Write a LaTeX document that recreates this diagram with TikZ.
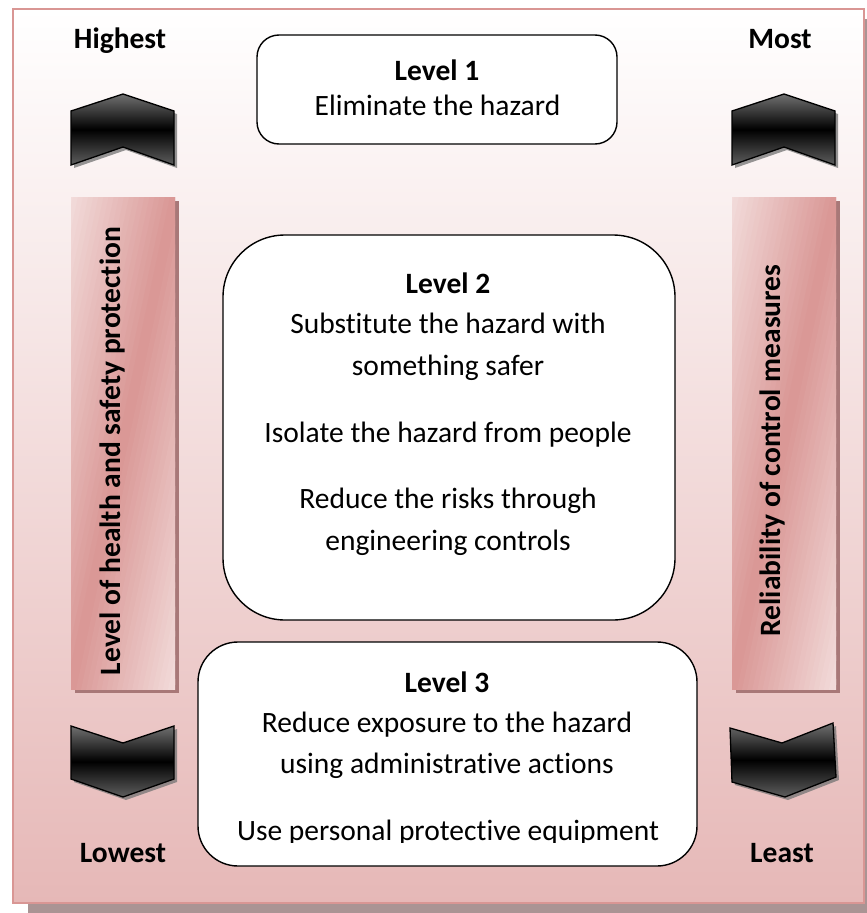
\documentclass[tikz,border=0pt]{standalone}
\usepackage{fontspec}
\setmainfont[Ligatures=NoCommon]{Carlito}
\definecolor{pinkdark}{HTML}{D99694}
\definecolor{pinklight}{HTML}{F3DEDD}
\definecolor{bgbot}{HTML}{E6B8B7}
\definecolor{frameshadow}{HTML}{AA9494}
\definecolor{barshadow}{HTML}{A87878}
\definecolor{chevtop}{HTML}{707070}
\definecolor{chevbot}{HTML}{5E5E5E}
\begin{document}
\begin{tikzpicture}[x=1pt,y=-1pt,
  lbl/.style={font=\fontsize{29.5}{35}\selectfont, inner sep=0pt, anchor=base},
  lblb/.style={font=\fontsize{29.5}{35}\selectfont\bfseries, inner sep=0pt, anchor=base},
  lvlbox/.style={draw=black, line width=1.4pt, fill=white, inner sep=0pt, rounded corners=#1},
  chev/.style={draw=black, line width=1.3pt, line join=miter, top color=chevtop, bottom color=chevbot, middle color=black},
  chevshadow/.style={fill=black!55, opacity=0.75},
]
\useasboundingbox (0,0) rectangle (867,913);

% frame shadow and frame
\fill[frameshadow] (28,19) rectangle (880,925);
\node[draw=pinkdark, line width=2.5pt, top color=white, bottom color=bgbot,
      minimum width=851pt, minimum height=894pt, inner sep=0pt] (frame) at (438.5,456) {};

% bars with diagonal gradient
\foreach \cx in {123,784}{
  \fill[barshadow] ({\cx-52+4},201) rectangle ({\cx+52+4},693);
  \begin{scope}
    \clip ({\cx-52},197) rectangle ({\cx+52},689);
    \foreach \i in {0,...,41}{
      \pgfmathsetmacro\ta{-105+5*\i}
      \pgfmathsetmacro\tb{\ta+6}
      \pgfmathsetmacro\m{100-100*abs(\ta+2.5)/105}
      \fill[pinkdark!\m!pinklight]
        ({\cx+62.1+0.978*\ta},{149.6+0.207*\ta}) --
        ({\cx+62.1+0.978*\tb},{149.6+0.207*\tb}) --
        ({\cx-62.1+0.978*\tb},{736.4+0.207*\tb}) --
        ({\cx-62.1+0.978*\ta},{736.4+0.207*\ta}) -- cycle;
    }
  \end{scope}
}

% chevrons (shadows first)
\fill[chevshadow] (74,114) -- (126,97) -- (177,114) -- (177,168) -- (126,150) -- (74,168) -- cycle;
\fill[chevshadow] (735,114) -- (787,97) -- (838,114) -- (838,168) -- (787,150) -- (735,168) -- cycle;
\fill[chevshadow] (74,729) -- (126,746) -- (177,729) -- (177,782) -- (126,800) -- (74,782) -- cycle;
\fill[chevshadow] (733,731) -- (785,746) -- (836,726) -- (839,780) -- (788,800) -- (735,785) -- cycle;

\draw[chev] (71,111) -- (123,94) -- (174,111) -- (174,165) -- (123,147) -- (71,165) -- cycle;
\draw[chev] (732,111) -- (784,94) -- (835,111) -- (835,165) -- (784,147) -- (732,165) -- cycle;
\draw[chev] (71,726) -- (123,743) -- (174,726) -- (174,779) -- (123,797) -- (71,779) -- cycle;
\draw[chev] (730,728) -- (782,743) -- (833,723) -- (836,777) -- (785,797) -- (732,782) -- cycle;

% bar texts
\node[lblb, rotate=90] (barl) at (120,451) {Level of health and safety protection};
\node[lblb, rotate=90] (barr) at (780,450.5) {Reliability of control measures};

% corner labels
\node[lblb] (hi) at (120,48) {Highest};
\node[lblb] (mo) at (780,48) {Most};
\node[lblb] (lo) at (123,862) {Lowest};
\node[lblb] (le) at (782,862) {Least};

% level boxes
\node[lvlbox=22pt, minimum width=360pt, minimum height=109pt] (box1) at (437,89.5) {};
\node[lvlbox=62pt, minimum width=452pt, minimum height=385pt] (box2) at (449,427.5) {};
\node[lvlbox=40pt, minimum width=499pt, minimum height=224pt] (box3) at (447.5,754) {};

% level 1 text
\node[lblb] (l1t) at (437,80) {Level 1};
\node[lbl] (l1a) at (437.5,115) {Eliminate the hazard};

% level 2 text
\node[lblb] (l2t) at (448,293) {Level 2};
\node[lbl] (l2a) at (448,333) {Substitute the hazard with};
\node[lbl] (l2b) at (448,375) {something safer};
\node[lbl] (l2c) at (448,442) {Isolate the hazard from people};
\node[lbl] (l2d) at (448,508) {Reduce the risks through};
\node[lbl] (l2e) at (448,550) {engineering controls};

% level 3 text
\node[lblb] (l3t) at (447,692) {Level 3};
\node[lbl] (l3a) at (447,732) {Reduce exposure to the hazard};
\node[lbl] (l3b) at (447,773) {using administrative actions};
\begin{scope}
  \clip (200,790) rectangle (695,842.5);
  \node[lbl] (l3c) at (448,840) {Use personal protective equipment};
\end{scope}
\end{tikzpicture}
\end{document}
